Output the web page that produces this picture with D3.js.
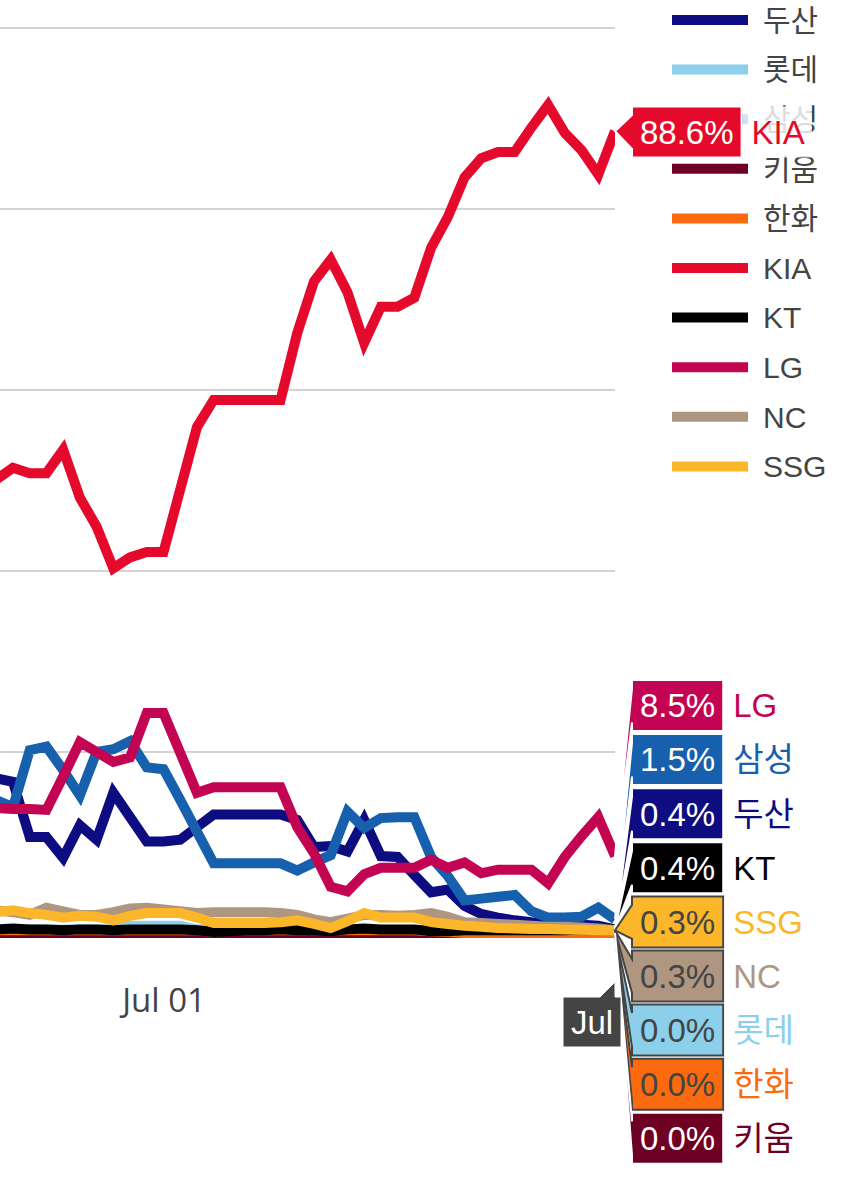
<!DOCTYPE html>
<html>
<head>
<meta charset="utf-8">
<script src="https://cdn.jsdelivr.net/npm/d3@7"></script>
<style>
  html, body { margin: 0; padding: 0; background: #fff; }
  svg { display: block; }
</style>
</head>
<body>
<svg id="chart" width="850" height="1184"></svg>
<script>
// ---------------- DATA ----------------
const dates = [
  "2024-06-21","2024-06-22","2024-06-23","2024-06-24","2024-06-25","2024-06-26","2024-06-27","2024-06-28",
  "2024-06-29","2024-06-30","2024-07-01","2024-07-02","2024-07-03","2024-07-04","2024-07-05","2024-07-06",
  "2024-07-07","2024-07-08","2024-07-09","2024-07-10","2024-07-11","2024-07-12","2024-07-13","2024-07-14",
  "2024-07-15","2024-07-16","2024-07-17","2024-07-18","2024-07-19","2024-07-20","2024-07-21","2024-07-22",
  "2024-07-23","2024-07-24","2024-07-25","2024-07-26","2024-07-27","2024-07-28"
];
const teams = ["두산","롯데","삼성","키움","한화","KIA","KT","LG","NC","SSG"];

const doosan  = [17.1,16.7,10.6,10.6,8.3,11.9,10.3,15.5,12.8,10.1,10.1,10.3,11.7,13.1,13.1,13.1,13.1,13.1,12.5,9.5,9.6,9.0,12.5,8.5,8.4,6.4,4.5,4.8,3.0,2.1,1.7,1.4,1.2,1.1,1.0,0.9,0.8,0.4];
const lotte   = [0.4,0.4,0.4,0.4,0.4,0.4,0.4,0.4,0.8,0.8,0.8,0.8,0.4,0.4,0.4,0.4,0.4,0.4,0.4,0.4,0.4,0.4,0.3,0.3,0.3,0.3,0.3,0.3,0.2,0.2,0.1,0.1,0.1,0.0,0.0,0.0,0.0,0.0];
const samsung = [14.7,13.9,20.2,20.6,18.0,15.2,20.0,20.3,21.2,18.3,18.1,14.7,11.2,7.7,7.7,7.7,7.7,7.7,6.9,7.8,8.6,13.4,11.6,12.7,12.8,12.8,8.4,6.3,3.6,3.8,4.0,4.2,2.4,1.7,1.7,1.8,2.8,1.5];
const kiwoom  = [0.0,0.0,0.0,0.0,0.0,0.0,0.0,0.0,0.0,0.0,0.0,0.0,0.0,0.0,0.0,0.0,0.0,0.0,0.0,0.0,0.0,0.0,0.0,0.0,0.0,0.0,0.0,0.0,0.0,0.0,0.0,0.0,0.0,0.0,0.0,0.0,0.0,0.0];
const hanwha  = [0.3,0.3,0.3,0.3,0.3,0.3,0.3,0.3,0.3,0.3,0.3,0.3,0.3,0.1,0.3,0.3,0.3,0.3,0.3,0.3,0.3,0.3,0.3,0.3,0.3,0.3,0.2,0.1,0.0,0.0,0.0,0.0,0.0,0.0,0.0,0.0,0.0,0.0];
const kia     = [50.1,51.4,50.8,50.8,53.4,48.1,44.9,40.3,41.5,42.1,42.1,49.0,55.9,58.9,58.9,58.9,58.9,58.9,66.3,72.0,74.4,70.8,65.2,69.2,69.2,70.2,75.7,79.1,83.5,85.6,86.3,86.3,89.0,91.5,88.4,86.5,83.8,88.6];
const kt      = [0.4,0.5,0.4,0.4,0.3,0.4,0.4,0.3,0.4,0.4,0.4,0.4,0.3,0.1,0.2,0.3,0.3,0.4,0.3,0.3,0.2,0.4,0.5,0.4,0.4,0.4,0.2,0.2,0.3,0.3,0.3,0.3,0.3,0.3,0.3,0.4,0.4,0.4];
const lg      = [13.8,13.7,13.7,13.6,17.3,21.1,20.0,18.9,19.4,24.3,24.3,19.9,15.5,16.1,16.1,16.1,16.1,16.1,11.7,8.8,5.1,4.6,6.5,7.2,7.2,7.2,8.1,7.2,7.8,6.6,7.0,7.0,7.0,5.5,8.4,10.7,12.8,8.5];
const nc      = [2.5,2.3,2.0,2.8,2.4,2.0,2.0,2.3,2.7,2.8,2.6,2.4,2.2,2.3,2.3,2.3,2.3,2.2,2.0,1.5,1.2,1.6,2.0,2.0,1.9,2.0,2.2,1.8,1.2,1.1,1.0,0.9,0.8,0.7,0.7,0.6,0.5,0.3];
const ssg     = [2.3,2.5,2.2,2.0,1.7,1.9,1.8,1.4,1.9,2.2,2.2,2.2,1.7,1.1,1.1,1.1,1.1,1.2,1.4,1.0,0.55,1.3,2.2,1.7,1.7,1.7,1.2,1.0,0.8,0.7,0.55,0.5,0.45,0.45,0.4,0.35,0.3,0.3];

const yTicks = [0, 20, 40, 60, 80, 100];
const hoverOrder = ["LG","삼성","두산","KT","SSG","NC","롯데","한화","키움"];
const xHoverText = "Jul";

// ---------------- STYLE ----------------
const colors = {
  "두산": "#0D0C80", "롯데": "#8CCFEA", "삼성": "#1660AD", "키움": "#6E0024", "한화": "#FC6A10",
  "KIA": "#E50A2C", "KT": "#000000", "LG": "#C30452", "NC": "#AE9681", "SSG": "#FBB62A"
};
const seriesValues = {
  "두산": doosan, "롯데": lotte, "삼성": samsung, "키움": kiwoom, "한화": hanwha,
  "KIA": kia, "KT": kt, "LG": lg, "NC": nc, "SSG": ssg
};
const uiFont = "'Liberation Sans', Arial, 'Noto Sans CJK KR', sans-serif";
const tickFont = "'Open Sans', 'Noto Sans', sans-serif";

const svg = d3.select("#chart");
const parse = d3.utcParse("%Y-%m-%d");
const xDates = dates.map(parse);

const plotRight = 615, plotBottom = 982;
const x = d3.scaleUtc()
  .domain([parse("2024-07-01"), parse("2024-07-28")])
  .range([163.5, plotRight]);
const y = d3.scaleLinear().domain([0, 100]).range([933, 28]);

svg.append("rect").attr("width", 850).attr("height", 1184).attr("fill", "#fff");

svg.append("defs").append("clipPath").attr("id", "plotclip")
  .append("rect").attr("x", -50).attr("y", 0).attr("width", plotRight + 50).attr("height", plotBottom);

// gridlines
svg.append("g").selectAll("line").data(yTicks.filter(d => d > 0)).join("line")
  .attr("x1", 0).attr("x2", plotRight)
  .attr("y1", d => y(d)).attr("y2", d => y(d))
  .attr("stroke", "#d3d3d3").attr("stroke-width", 2);

// x axis
const xAxis = d3.axisBottom(x)
  .ticks(d3.utcMonth.every(1))
  .tickFormat(d3.utcFormat("%b %d"))
  .tickSize(0).tickPadding(7);
const ax = svg.append("g").attr("transform", `translate(0,${plotBottom})`).call(xAxis);
ax.select(".domain").remove();
ax.selectAll("text").attr("fill", "#444").style("font-family", tickFont).style("font-size", "33px");

// lines
const line = d3.line().x((d, i) => x(xDates[i])).y(d => y(d));
const linesG = svg.append("g").attr("clip-path", "url(#plotclip)");
teams.forEach(t => {
  linesG.append("path")
    .datum(seriesValues[t])
    .attr("d", line)
    .attr("fill", "none")
    .attr("stroke", colors[t])
    .attr("stroke-width", 10);
});

// legend
const legend = svg.append("g");
teams.forEach((t, i) => {
  const cy = 20 + i * 49.6;
  legend.append("line").attr("x1", 672).attr("x2", 748).attr("y1", cy).attr("y2", cy)
    .attr("stroke", colors[t]).attr("stroke-width", 10);
  legend.append("text").attr("x", 763).attr("y", cy).attr("dy", "0.36em")
    .attr("fill", "#444").style("font-family", uiFont).style("font-size", "30px").text(t);
});

// hover labels
const fmt = d3.format(".1f");
const last = dates.length - 1;
const A = 17, H = 51;
const hoverLayer = svg.append("g");

function isLight(c) { return d3.lab(c).l > 58; }

function drawLabel(team, boxCenterY) {
  const v = seriesValues[team][last];
  const ax0 = x(xDates[last]), ay0 = y(v);
  const oy = boxCenterY - ay0;
  const col = colors[team];
  const light = isLight(col);
  const g = hoverLayer.append("g").attr("transform", `translate(${ax0},${ay0})`);
  const path = g.append("path");
  const valText = g.append("text")
    .attr("x", A + 8).attr("y", oy).attr("dy", "0.36em")
    .attr("fill", light ? "#444" : "#fff")
    .style("font-family", uiFont).style("font-size", "33px")
    .text(fmt(v) + "%");
  const w = valText.node().getComputedTextLength() + 16;
  path.attr("d", `M0,0L${A},${oy + A}v${H / 2 - A}h${w}V${oy - H / 2}H${A}V${oy - A}Z`)
    .attr("fill", col)
    .attr("stroke", light ? "#444" : "#fff")
    .attr("stroke-width", 2);
  const nameBg = g.insert("rect", "text");
  const nameText = g.append("text")
    .attr("x", A + w + 10).attr("y", oy).attr("dy", "0.36em")
    .attr("fill", col)
    .style("font-family", uiFont).style("font-size", "33px")
    .text(team);
  const nw = nameText.node().getComputedTextLength();
  nameBg.attr("x", A + w + 1).attr("y", oy - H / 2).attr("width", nw + 16).attr("height", H)
    .attr("fill", "#fff").attr("opacity", 0.82);
}

drawLabel("KIA", y(kia[last]) + 0.8);
hoverOrder.forEach((t, k) => drawLabel(t, 680 + H / 2 + k * 54.1));

// x hover label
const xl = hoverLayer.append("g").attr("transform", `translate(${x(xDates[last])},${plotBottom})`);
xl.append("path")
  .attr("d", "M0,0L-15,15H-52V65H6V15H0Z")
  .attr("fill", "#444").attr("stroke", "#fff").attr("stroke-width", 1);
xl.append("text").attr("x", -23).attr("y", 40).attr("dy", "0.36em")
  .attr("text-anchor", "middle").attr("fill", "#fff")
  .style("font-family", uiFont).style("font-size", "33px").text(xHoverText);
</script>
</body>
</html>
